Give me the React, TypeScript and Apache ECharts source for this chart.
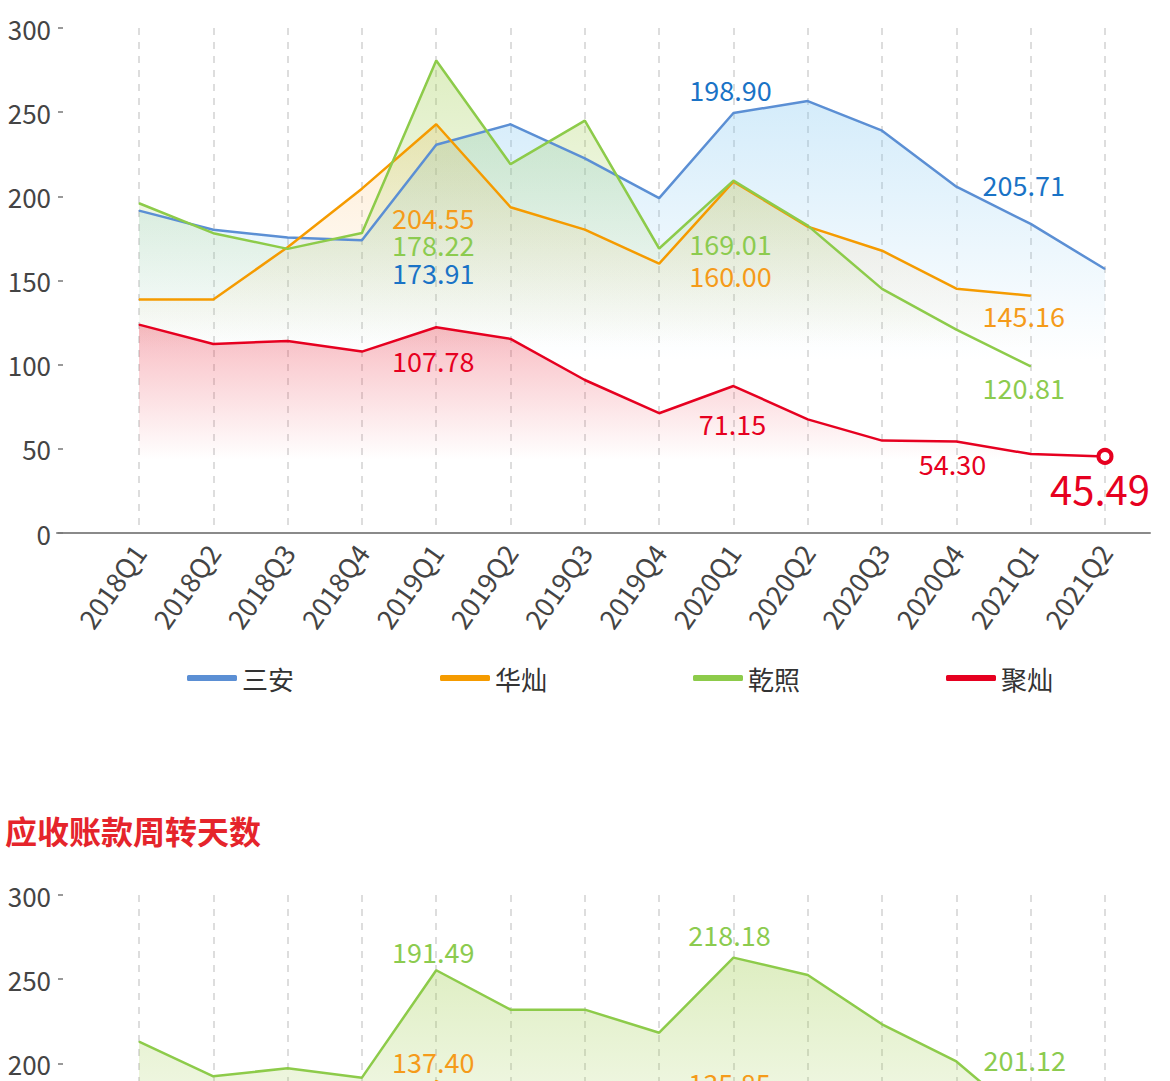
import React, { useEffect, useRef } from "react";
import * as echarts from "echarts";

const FONT = "Noto Sans CJK SC";

const categories = [
  "2018Q1", "2018Q2", "2018Q3", "2018Q4",
  "2019Q1", "2019Q2", "2019Q3", "2019Q4",
  "2020Q1", "2020Q2", "2020Q3", "2020Q4",
  "2021Q1", "2021Q2",
];
const seriesNames = ["三安", "华灿", "乾照", "聚灿"];
const title2 = "应收账款周转天数";

// Chart 1 values
const sanan1 = [191.5, 180.1, 175.5, 173.91, 230.6, 242.8, 222.5, 198.9, 249.5, 256.6, 239.0, 205.71, 183.6, 156.8];
const huacan1 = [138.7, 138.7, 169.8, 204.55, 242.8, 193.5, 180.2, 160.0, 208.7, 182.0, 167.7, 145.16, 141.0];
const qianzhao1 = [195.9, 178.1, 168.8, 178.22, 280.7, 219.1, 245.0, 169.01, 209.3, 182.6, 145.0, 120.81, 99.0];
const jucan1 = [123.8, 112.3, 114.1, 107.78, 122.2, 115.3, 90.9, 71.15, 87.3, 67.5, 54.9, 54.3, 46.9, 45.49];

// Chart 2 values (only the visible part can be read)
const qianzhao2 = [212.9, 192.3, 197.1, 191.49, 255.3, 231.9, 231.9, 218.18, 262.8, 252.5, 223.2, 201.12, 163.7];
const huacan2 = [150.0, 145.0, 148.0, 137.4, 189.5, 165.0, 155.0, 135.85, 170.0, 160.0, 150.0, 140.0, 135.0];

// Label texts: [index, text]
const sananLabels1: [number, string][] = [[4, "173.91"], [8, "198.90"], [12, "205.71"]];
const huacanLabels1: [number, string][] = [[4, "204.55"], [8, "160.00"], [12, "145.16"]];
const qianzhaoLabels1: [number, string][] = [[4, "178.22"], [8, "169.01"], [12, "120.81"]];
const jucanLabels1: [number, string][] = [[4, "107.78"], [8, "71.15"], [11, "54.30"], [13, "45.49"]];
const qianzhaoLabels2: [number, string][] = [[4, "191.49"], [8, "218.18"], [12, "201.12"]];
const huacanLabels2: [number, string][] = [[4, "137.40"], [8, "135.85"]];

// label offsets (layout), keyed by series+index
const labelOffsets: Record<string, [number, number, number?]> = {
  "s1-4": [-3, 128], "s1-8": [-3, -24], "s1-12": [-7, -39],
  "h1-4": [-3, 93], "h1-8": [-3, 94], "h1-12": [-7, 20],
  "q1-4": [-3, 184], "q1-8": [-3, 63], "q1-12": [-7, 21],
  "j1-4": [-3, 33], "j1-8": [-1, 37], "j1-11": [-4, 22], "j1-13": [-5, 32, 40],
  "q2-4": [-3, -19], "q2-8": [-4, -23], "q2-12": [-6, -65],
  "h2-4": [-3, -20], "h2-8": [-4, -31],
};

const COLORS = {
  blue: "#5B8FD4",
  orange: "#F59B00",
  green: "#8DCB4A",
  red: "#E60020",
};
const LABEL_COLORS = {
  blue: "#1A73C6",
  orange: "#F59B1A",
  green: "#8CCB4F",
  red: "#E60020",
};

function grad(rgb: string, a: number, fade: number) {
  return new echarts.graphic.LinearGradient(0, 0, 0, 1, [
    { offset: 0, color: `rgba(${rgb},${a})` },
    { offset: fade, color: `rgba(${rgb},0)` },
    { offset: 1, color: `rgba(${rgb},0)` },
  ]);
}

function makeSeries(
  key: string,
  name: string,
  values: number[],
  labels: [number, string][],
  color: string,
  labelColor: string,
  area: any,
  axisIndex: number,
  lastCircle = false
) {
  const data = values.map((v, i) => {
    const lab = labels.find((l) => l[0] === i);
    const item: any = { value: v };
    if (lab) {
      const off = labelOffsets[`${key}-${i}`] || [0, 0];
      item.label = {
        show: true,
        formatter: lab[1],
        offset: [off[0], off[1]],
        fontSize: off[2] || 27,
      };
    }
    if (lastCircle && i === values.length - 1) {
      item.symbol = "circle";
      item.symbolSize = 13;
      item.itemStyle = { color: "#fff", borderColor: color, borderWidth: 4 };
    }
    return item;
  });
  return {
    type: "line",
    name,
    xAxisIndex: axisIndex,
    yAxisIndex: axisIndex,
    data,
    symbol: "circle",
    symbolSize: 1,
    showSymbol: true,
    lineStyle: { color, width: 2.5 },
    itemStyle: { color },
    areaStyle: { color: area, origin: "start" },
    label: {
      show: false,
      position: "inside",
      color: labelColor,
      fontSize: 27,
      fontFamily: FONT,
    },
    emphasis: { disabled: true },
    z: 2,
  };
}

function xAxisFor(gridIndex: number) {
  return {
    type: "category",
    gridIndex,
    data: categories,
    boundaryGap: false,
    axisLine: { show: false },
    axisTick: { show: false },
    axisLabel: { rotate: 55, interval: 0, color: "#444", fontSize: 27, margin: 14, fontFamily: FONT },
    splitLine: { show: true, interval: 0, lineStyle: { color: "#d2d2d2", type: [7, 7], width: 1.5 } },
  };
}

function yAxisFor(gridIndex: number) {
  return {
    type: "value",
    gridIndex,
    min: 0,
    max: 300,
    interval: 50,
    offset: 76,
    axisLine: { show: false },
    axisTick: { show: true, length: 5, lineStyle: { color: "#777", width: 1.5 } },
    axisLabel: { color: "#444", fontSize: 26, margin: 12, fontFamily: FONT },
    splitLine: { show: false },
  };
}

export default function App() {
  const ref = useRef<HTMLDivElement>(null);
  useEffect(() => {
    if (!ref.current) return;
    const chart = echarts.init(ref.current, undefined, { renderer: "svg" });
    const option: any = {
      animation: false,
      textStyle: { fontFamily: FONT },
      title: {
        text: title2,
        left: 5,
        top: 814,
        padding: 0,
        textStyle: { color: "#E5242B", fontSize: 32, fontWeight: "bold", fontFamily: FONT },
      },
      legend: {
        data: seriesNames,
        left: 187,
        top: 665,
        padding: 0,
        itemGap: 146,
        itemWidth: 50,
        itemHeight: 6,
        icon: "roundRect",
        textStyle: { fontSize: 26, color: "#333", fontFamily: FONT },
      },
      grid: [
        { left: 139, right: 65, top: 28, height: 505, outerBoundsMode: "none", containLabel: false },
        { left: 139, right: 65, top: 895, height: 505, outerBoundsMode: "none", containLabel: false },
        { left: 57, width: 1093, top: 28, height: 505, outerBoundsMode: "none", containLabel: false },
      ],
      xAxis: [
        xAxisFor(0),
        xAxisFor(1),
        {
          type: "value",
          gridIndex: 2,
          min: 0,
          max: 1,
          axisLine: { show: true, lineStyle: { color: "#8a8a8a", width: 2 } },
          axisTick: { show: false },
          axisLabel: { show: false },
          splitLine: { show: false },
        },
      ],
      yAxis: [
        yAxisFor(0),
        yAxisFor(1),
        { type: "value", gridIndex: 2, show: false, min: 0, max: 1 },
      ],
      series: [
        makeSeries("s1", seriesNames[0], sanan1, sananLabels1, COLORS.blue, LABEL_COLORS.blue, grad("120,195,240", 0.45, 0.6), 0),
        makeSeries("h1", seriesNames[1], huacan1, huacanLabels1, COLORS.orange, LABEL_COLORS.orange, grad("250,170,60", 0.3, 0.55), 0),
        makeSeries("q1", seriesNames[2], qianzhao1, qianzhaoLabels1, COLORS.green, LABEL_COLORS.green, grad("150,200,60", 0.45, 0.6), 0),
        makeSeries("j1", seriesNames[3], jucan1, jucanLabels1, COLORS.red, LABEL_COLORS.red, grad("235,40,60", 0.45, 0.65), 0, true),
        makeSeries("h2", seriesNames[1], huacan2, huacanLabels2, COLORS.orange, LABEL_COLORS.orange, grad("250,170,60", 0.3, 0.55), 1),
        makeSeries("q2", seriesNames[2], qianzhao2, qianzhaoLabels2, COLORS.green, LABEL_COLORS.green, grad("150,200,60", 0.45, 0.6), 1),
      ],
    };
    chart.setOption(option);
    return () => chart.dispose();
  }, []);
  return (
    <div
      ref={ref}
      style={{ position: "absolute", left: 0, top: 0, width: 1170, height: 1081, background: "#fff" }}
    />
  );
}
